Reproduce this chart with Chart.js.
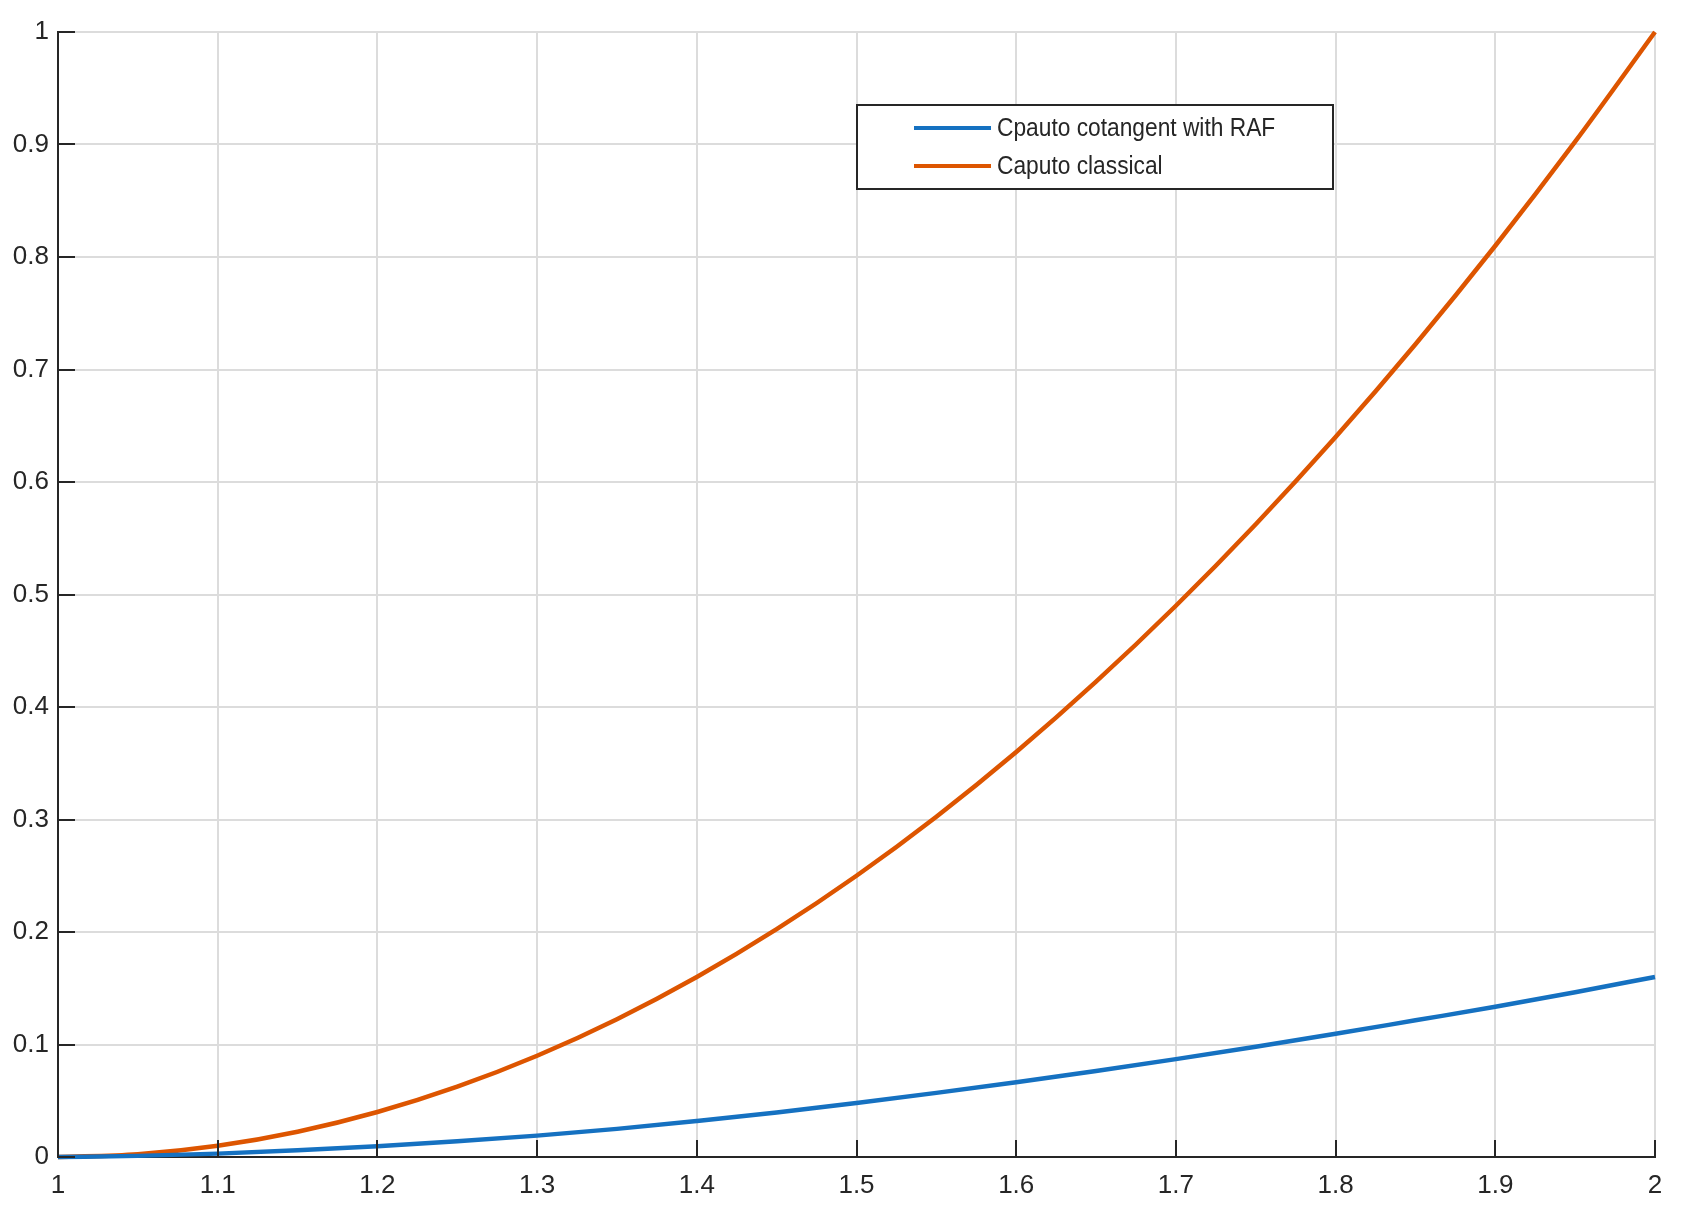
<!DOCTYPE html>
<html>
<head>
<meta charset="utf-8">
<script src="https://cdn.jsdelivr.net/npm/chart.js@4"></script>
<style>
  html, body { margin: 0; padding: 0; background: #fff; }
  #wrap { width: 1681px; height: 1214px; }
</style>
</head>
<body>
<div id="wrap"><canvas id="grafico"></canvas></div>
<script>
// datos
var xValues = [1, 1.05, 1.1, 1.15, 1.2, 1.25, 1.3, 1.35, 1.4, 1.45, 1.5, 1.55, 1.6, 1.65, 1.7, 1.75, 1.8, 1.85, 1.9, 1.95, 2];
var cotangentRAF = [0, 0.001, 0.003, 0.006, 0.0095, 0.014, 0.019, 0.025, 0.032, 0.0395, 0.048, 0.057, 0.0665, 0.0765, 0.087, 0.098, 0.1095, 0.1215, 0.1335, 0.1465, 0.160];
var caputoClassical = [0, 0.0025, 0.01, 0.0225, 0.04, 0.0625, 0.09, 0.1225, 0.16, 0.2025, 0.25, 0.3025, 0.36, 0.4225, 0.49, 0.5625, 0.64, 0.7225, 0.81, 0.9025, 1];
var xTicks = [1, 1.1, 1.2, 1.3, 1.4, 1.5, 1.6, 1.7, 1.8, 1.9, 2];
var yTicks = [0, 0.1, 0.2, 0.3, 0.4, 0.5, 0.6, 0.7, 0.8, 0.9, 1];
var seriesNames = ['Cpauto cotangent with RAF', 'Caputo classical'];

var FONT = 'Liberation Sans';
var INK = '#262626';

function pares(ys) {
    return xValues.map(function(x, i) { return { x: x, y: ys[i] }; });
}

// marcas hacia dentro, como en matlab
var marcasDentro = {
    id: 'marcasDentro',
    afterDatasetsDraw: function(chart) {
        var ctx = chart.ctx, xs = chart.scales.x, ys = chart.scales.y;
        ctx.save();
        ctx.strokeStyle = INK;
        ctx.lineWidth = 2;
        ctx.beginPath();
        xTicks.forEach(function(v) {
            var px = Math.round(xs.getPixelForValue(v));
            ctx.moveTo(px, ys.bottom);
            ctx.lineTo(px, ys.bottom - 17);
        });
        yTicks.forEach(function(v) {
            var py = Math.round(ys.getPixelForValue(v));
            ctx.moveTo(xs.left, py);
            ctx.lineTo(xs.left + 17, py);
        });
        ctx.stroke();
        ctx.restore();
    }
};

var leyenda = {
    id: 'leyenda',
    afterDraw: function(chart) {
        var ctx = chart.ctx;
        var bx = 857, by = 105, bw = 476, bh = 84;
        ctx.save();
        ctx.fillStyle = '#fff';
        ctx.fillRect(bx, by, bw, bh);
        ctx.strokeStyle = INK;
        ctx.lineWidth = 2;
        ctx.strokeRect(bx, by, bw, bh);
        ctx.textBaseline = 'middle';
        chart.data.datasets.forEach(function(ds, i) {
            var cy = 128 + i * 38;
            ctx.strokeStyle = ds.borderColor;
            ctx.lineWidth = 4;
            ctx.beginPath();
            ctx.moveTo(914, cy);
            ctx.lineTo(991, cy);
            ctx.stroke();
            // texto un poco estrecho, como helvetica
            ctx.save();
            ctx.translate(997, cy + 1);
            ctx.scale(0.91, 1);
            ctx.font = '25px "' + FONT + '"';
            ctx.fillStyle = INK;
            ctx.fillText(ds.label, 0, 0);
            ctx.restore();
        });
        ctx.restore();
    }
};

var ctxG = document.getElementById('grafico').getContext('2d');
var grafico = new Chart(ctxG, {
    type: 'line',
    data: {
        datasets: [{
            label: seriesNames[0],
            data: pares(cotangentRAF),
            borderColor: '#1571C1',
            borderWidth: 4.5,
            pointRadius: 0,
            cubicInterpolationMode: 'monotone'
        }, {
            label: seriesNames[1],
            data: pares(caputoClassical),
            borderColor: '#DD5500',
            borderWidth: 4.5,
            pointRadius: 0,
            cubicInterpolationMode: 'monotone'
        }]
    },
    options: {
        responsive: true,
        maintainAspectRatio: false,
        animation: false,
        clip: false,
        layout: { padding: { top: 32, right: 26, left: 0, bottom: 0 } },
        plugins: {
            legend: { display: false },
            tooltip: { enabled: false }
        },
        scales: {
            x: {
                type: 'linear',
                min: 1,
                max: 2,
                afterBuildTicks: function(s) { s.ticks = xTicks.map(function(v) { return { value: v }; }); },
                afterFit: function(s) { s.height = 57; },
                grid: { color: '#dcdcdc', lineWidth: 2, drawTicks: false },
                border: { color: INK, width: 2 },
                ticks: {
                    autoSkip: false,
                    maxRotation: 0,
                    padding: 13,
                    color: INK,
                    font: { family: FONT, size: 26 },
                    callback: function(v) { return String(Math.round(v * 10) / 10); }
                }
            },
            y: {
                type: 'linear',
                min: 0,
                max: 1,
                afterBuildTicks: function(s) { s.ticks = yTicks.map(function(v) { return { value: v }; }); },
                afterFit: function(s) { s.width = 58; },
                grid: { color: '#dcdcdc', lineWidth: 2, drawTicks: false },
                border: { color: INK, width: 2 },
                ticks: {
                    autoSkip: false,
                    padding: 9,
                    color: INK,
                    font: { family: FONT, size: 26 },
                    callback: function(v) { return String(Math.round(v * 10) / 10); }
                }
            }
        }
    },
    plugins: [marcasDentro, leyenda]
});
</script>
</body>
</html>
